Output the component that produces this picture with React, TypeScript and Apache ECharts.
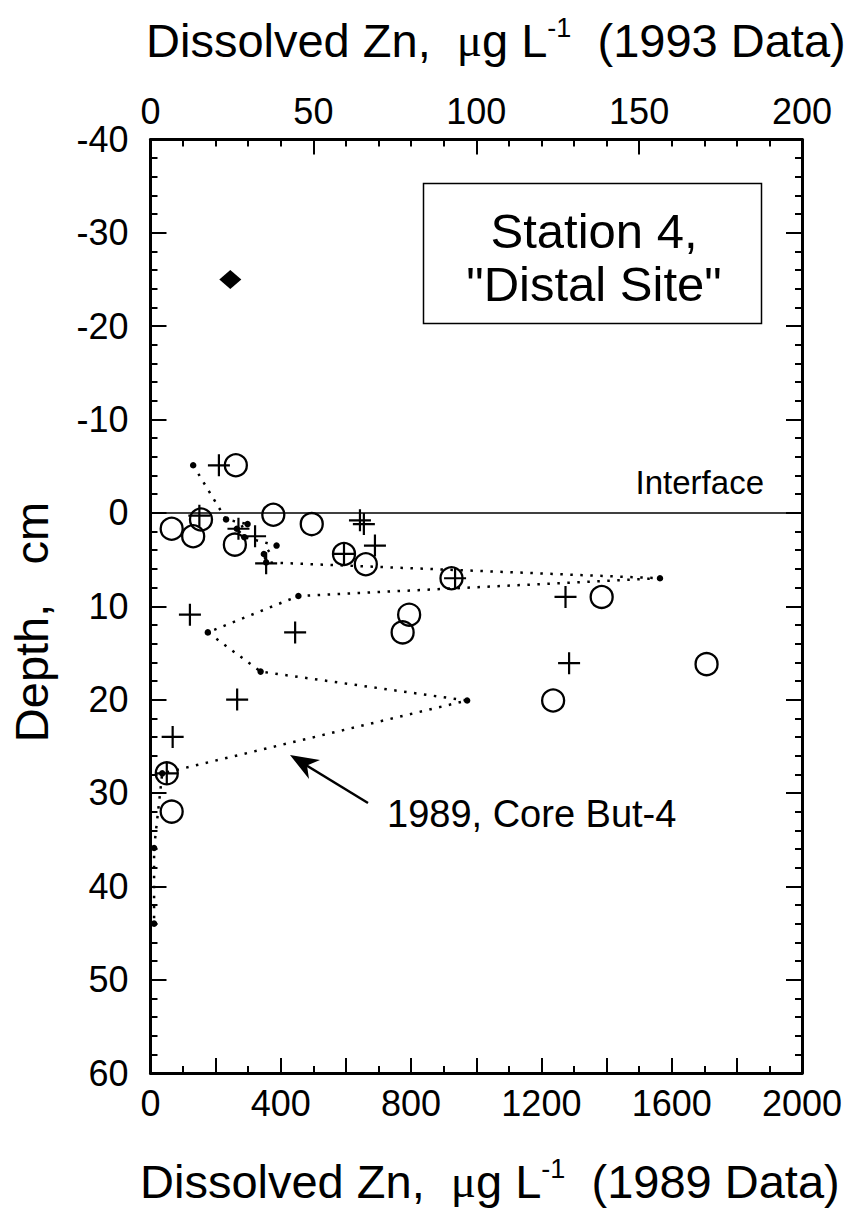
import React, { useEffect, useRef } from "react";
import * as echarts from "echarts";

// 1989 core But-4 (bottom axis, µg/L) by depth (cm)
const depth1989 = [-5.1, 0.7, 1.2, 1.7, 2.6, 3.5, 4.4, 5.3, 7.0, 8.9, 12.8, 17.0, 20.1, 27.9, 35.9, 44.0];
const zn1989 = [131, 232, 298, 265, 288, 387, 348, 355, 1564, 454, 176, 338, 972, 36, 11, 11];

// 1993 data, open circles (top axis, µg/L)
const depthCircle = [-5.1, 0.7, 0.2, 1.7, 1.2, 2.5, 3.4, 4.4, 5.5, 7.0, 9.0, 10.9, 12.8, 16.2, 20.1, 27.9, 32.0];
const znCircle = [26.2, 15.5, 37.7, 6.5, 49.5, 13.1, 25.9, 59.4, 66.1, 92.4, 138.5, 79.4, 77.4, 170.7, 123.6, 5.0, 6.5];

// 1993 data, crosses (top axis, µg/L)
const depthCross = [-5.1, 0.3, 0.8, 1.2, 1.7, 2.5, 3.5, 4.4, 5.4, 7.0, 9.0, 10.9, 12.8, 16.1, 20.0, 24.0, 27.9];
const znCross = [21.0, 15.0, 64.3, 65.5, 27.0, 32.1, 68.9, 59.4, 35.5, 93.5, 127.4, 12.1, 44.4, 128.5, 26.6, 6.8, 5.0];

// overlying water sample
const depthWater = [-25];
const znWater = [24.5];

const bottomTicks = { min: 0, max: 2000, interval: 200, labelStep: 400 };
const topTicks = { min: 0, max: 200, interval: 50 };
const depthTicks = { min: -40, max: 60, interval: 10 };

const FONT = "'Liberation Sans', Arial, Helvetica, sans-serif";
const PLUS = "path://M10,0 L10,20 M0,10 L20,10";

const zip = (xs: number[], ys: number[]) => xs.map((x, i) => [x, ys[i]]);

const titleRich = {
  a: { fontSize: 47, fontFamily: FONT, color: "#000", lineHeight: 52 },
  mu: { fontSize: 47, fontFamily: "'Liberation Serif', 'Times New Roman', serif", color: "#000", lineHeight: 52 },
  sup: { fontSize: 27, fontFamily: FONT, color: "#000", lineHeight: 24, verticalAlign: "top" },
};

export default function App() {
  const ref = useRef<HTMLDivElement>(null);

  useEffect(() => {
    if (!ref.current) return;
    const chart = echarts.init(ref.current, null, { renderer: "svg" });

    const axisLine = { onZero: false, lineStyle: { color: "#000", width: 3 } };
    const tickStyle = { color: "#000", width: 2 };
    const labelBase = { color: "#000", fontSize: 36, fontFamily: FONT };

    const option: any = {
      animation: false,
      backgroundColor: "#fff",
      grid: { left: 150.5, right: 48, top: 139.5, bottom: 142, containLabel: false },
      xAxis: [
        {
          type: "value",
          position: "bottom",
          min: bottomTicks.min,
          max: bottomTicks.max,
          interval: bottomTicks.interval,
          axisLine,
          axisTick: { inside: true, length: 15, lineStyle: tickStyle },
          minorTick: { show: true, splitNumber: 2, length: 7, lineStyle: tickStyle },
          splitLine: { show: false },
          minorSplitLine: { show: false },
          axisLabel: {
            ...labelBase,
            margin: 12,
            formatter: (v: number) => (v % bottomTicks.labelStep === 0 ? String(v) : ""),
          },
        },
        {
          type: "value",
          position: "top",
          min: topTicks.min,
          max: topTicks.max,
          interval: topTicks.interval,
          axisLine,
          axisTick: { inside: true, length: 15, lineStyle: tickStyle },
          minorTick: { show: true, splitNumber: 5, length: 7, lineStyle: tickStyle },
          splitLine: { show: false },
          minorSplitLine: { show: false },
          axisLabel: { ...labelBase, margin: 10 },
        },
      ],
      yAxis: [
        {
          type: "value",
          position: "left",
          inverse: true,
          min: depthTicks.min,
          max: depthTicks.max,
          interval: depthTicks.interval,
          axisLine,
          axisTick: { inside: true, length: 16, lineStyle: tickStyle },
          minorTick: { show: true, splitNumber: 5, length: 7, lineStyle: tickStyle },
          splitLine: { show: false },
          minorSplitLine: { show: false },
          axisLabel: { ...labelBase, margin: 22 },
        },
        {
          type: "value",
          position: "right",
          inverse: true,
          min: depthTicks.min,
          max: depthTicks.max,
          interval: depthTicks.interval,
          axisLine,
          axisTick: { inside: true, length: 16, lineStyle: tickStyle },
          minorTick: { show: true, splitNumber: 5, length: 7, lineStyle: tickStyle },
          splitLine: { show: false },
          minorSplitLine: { show: false },
          axisLabel: { show: false },
        },
      ],
      series: [
        {
          name: "1989, Core But-4",
          type: "line",
          xAxisIndex: 0,
          yAxisIndex: 0,
          data: zip(zn1989, depth1989),
          symbol: "circle",
          symbolSize: 6.5,
          itemStyle: { color: "#000", opacity: 1 },
          lineStyle: { color: "#000", width: 2.5, type: [2.5, 7.5] },
          markLine: {
            silent: true,
            symbol: "none",
            label: { show: false },
            lineStyle: { color: "#000", width: 1.6, type: "solid" },
            data: [{ yAxis: 0 }],
          },
          z: 3,
        },
        {
          name: "1993 circles",
          type: "scatter",
          xAxisIndex: 1,
          yAxisIndex: 0,
          data: zip(znCircle, depthCircle),
          symbol: "circle",
          symbolSize: 22,
          itemStyle: { color: "rgba(0,0,0,0)", borderColor: "#000", borderWidth: 2.3, opacity: 1 },
          z: 4,
        },
        {
          name: "1993 crosses",
          type: "scatter",
          xAxisIndex: 1,
          yAxisIndex: 0,
          data: zip(znCross, depthCross),
          symbol: PLUS,
          symbolSize: 22,
          itemStyle: { color: "rgba(0,0,0,0)", borderColor: "#000", borderWidth: 2.2, opacity: 1 },
          z: 4,
        },
        {
          name: "Overlying water",
          type: "scatter",
          xAxisIndex: 1,
          yAxisIndex: 0,
          data: zip(znWater, depthWater),
          symbol: "diamond",
          symbolSize: [22, 19],
          itemStyle: { color: "#000", opacity: 1 },
          z: 4,
        },
      ],
      graphic: [
        {
          type: "rect",
          shape: { x: 423.5, y: 183.5, width: 338, height: 140 },
          style: { fill: "#fff", stroke: "#000", lineWidth: 1.5 },
        },
        {
          type: "text",
          x: 594,
          y: 231,
          style: { text: "Station 4,", font: `49px ${FONT}`, fill: "#000", textAlign: "center", textVerticalAlign: "middle" },
        },
        {
          type: "text",
          x: 594,
          y: 284,
          style: { text: '"Distal Site"', font: `49px ${FONT}`, fill: "#000", textAlign: "center", textVerticalAlign: "middle" },
        },
        {
          type: "text",
          x: 764,
          y: 482,
          style: { text: "Interface", font: `33px ${FONT}`, fill: "#000", textAlign: "right", textVerticalAlign: "middle" },
        },
        {
          type: "text",
          x: 387,
          y: 814,
          style: { text: "1989, Core But-4", font: `38px ${FONT}`, fill: "#000", textAlign: "left", textVerticalAlign: "middle" },
        },
        {
          type: "line",
          shape: { x1: 300, y1: 761.5, x2: 368, y2: 803 },
          style: { stroke: "#000", lineWidth: 2.5 },
        },
        {
          type: "polygon",
          shape: { points: [[290, 755], [320, 760], [307, 765.5], [309, 779]] },
          style: { fill: "#000" },
        },
        {
          type: "text",
          x: 31,
          y: 622,
          rotation: Math.PI / 2,
          style: { text: "Depth,   cm", font: `47px ${FONT}`, fill: "#000", textAlign: "center", textVerticalAlign: "middle" },
        },
        {
          type: "text",
          x: 146,
          y: 40,
          style: {
            text: "{a|Dissolved Zn,  }{mu|μ}{a|g L}{sup|-1}{a|  (1993 Data)}",
            rich: titleRich,
            textAlign: "left",
            textVerticalAlign: "middle",
          },
        },
        {
          type: "text",
          x: 140,
          y: 1181,
          style: {
            text: "{a|Dissolved Zn,  }{mu|μ}{a|g L}{sup|-1}{a|  (1989 Data)}",
            rich: titleRich,
            textAlign: "left",
            textVerticalAlign: "middle",
          },
        },
      ],
    };

    chart.setOption(option);
    return () => chart.dispose();
  }, []);

  return (
    <div
      ref={ref}
      style={{ position: "absolute", left: 0, top: 0, width: 850, height: 1215, background: "#fff" }}
    />
  );
}
